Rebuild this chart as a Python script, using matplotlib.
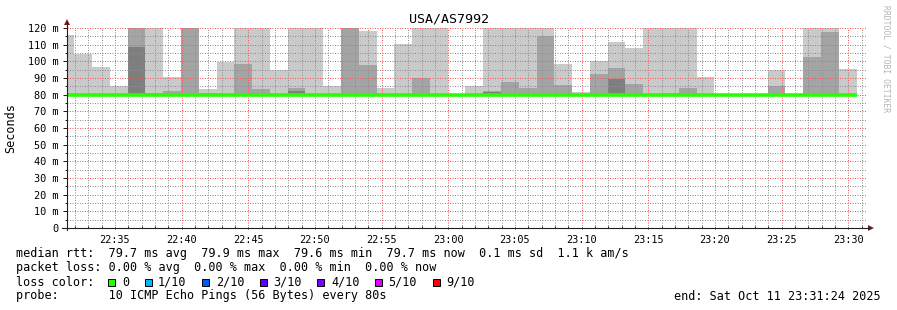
import matplotlib
matplotlib.use("Agg")
import matplotlib.pyplot as plt
import matplotlib.dates as mdates
from matplotlib.lines import Line2D
from matplotlib.patches import Polygon, Rectangle
import numpy as np
import pandas as pd

# ---------------- data ----------------
title = "USA/AS7992"
step_start = "2025-10-11 22:30:37"
step_seconds = 80
view_start = "2025-10-11 22:31:24"
view_end = "2025-10-11 23:31:24"

# highest ping of each 80 s round (ms)
ping_max = [115.8, 104.4, 96.6, 85.2, 131.0, 125.0, 90.6, 136.0, 83.4, 99.8,
            126.0, 128.0, 95.0, 124.0, 122.0, 85.2, 130.0, 118.2, 84.0, 110.4,
            124.0, 123.0, 79.8, 85.2, 126.0, 121.0, 125.0, 128.0, 98.4, 81.6,
            100.2, 111.6, 108.0, 127.0, 122.0, 125.0, 90.6, 79.8, 79.8, 79.8,
            94.8, 79.8, 123.0, 124.0, 95.4]
# second highest ping
ping_2nd = [80.0, 80.0, 80.0, 80.0, 124.0, 81.0, 82.2, 125.0, 81.0, 80.0,
            98.4, 83.4, 80.0, 84.0, 80.0, 80.0, 122.0, 97.8, 80.0, 80.0,
            90.0, 80.0, 79.8, 80.0, 82.2, 87.6, 84.0, 115.2, 85.8, 80.0,
            92.4, 96.0, 86.4, 80.0, 81.0, 84.0, 80.0, 79.8, 79.8, 79.8,
            85.2, 79.8, 102.6, 117.6, 80.0]
# third highest ping
ping_3rd = [79.9, 79.9, 79.9, 79.9, 108.8, 79.9, 79.9, 79.9, 79.9, 79.9,
            79.9, 79.9, 79.9, 82.2, 79.9, 79.9, 79.9, 79.9, 79.9, 79.9,
            79.9, 79.9, 79.8, 79.9, 81.6, 79.9, 79.9, 79.9, 79.9, 79.9,
            79.9, 89.4, 79.9, 79.9, 79.9, 79.9, 79.9, 79.8, 79.8, 79.8,
            79.9, 79.8, 79.9, 79.9, 79.9]
# lowest ping
ping_min = [79.4, 79.4, 79.4, 79.4, 79.5, 79.4, 79.4, 79.4, 79.4, 79.4,
            79.4, 79.4, 79.4, 79.4, 79.4, 79.4, 79.4, 79.4, 79.4, 79.4,
            79.4, 79.4, 79.5, 79.4, 79.5, 79.4, 79.4, 79.4, 79.4, 79.4,
            79.4, 79.4, 79.4, 79.4, 79.4, 79.4, 79.4, 79.5, 79.5, 79.5,
            79.4, 79.5, 79.4, 79.4, 79.4]
median_rtt = [79.7, 79.7, 79.7, 79.7, 80.1, 79.6, 79.7, 79.7, 79.7, 79.7,
              79.7, 79.7, 79.7, 79.7, 79.7, 79.7, 79.7, 79.7, 79.7, 79.7,
              79.7, 79.7, 79.7, 79.7, 79.9, 79.7, 79.7, 79.7, 79.7, 79.7,
              79.7, 79.7, 79.7, 79.7, 79.7, 79.7, 79.7, 79.7, 79.7, 79.7,
              79.7, 79.7, 79.7, 79.7, 79.7]

y_ticks = [0, 10, 20, 30, 40, 50, 60, 70, 80, 90, 100, 110, 120]
y_tick_labels = ["0", "10 m", "20 m", "30 m", "40 m", "50 m", "60 m", "70 m",
                 "80 m", "90 m", "100 m", "110 m", "120 m"]
y_label = "Seconds"

legend_lines = [
    "median rtt:  79.7 ms avg  79.9 ms max  79.6 ms min  79.7 ms now  0.1 ms sd  1.1 k am/s",
    "packet loss: 0.00 % avg  0.00 % max  0.00 % min  0.00 % now",
    "loss color:",
    "probe:       10 ICMP Echo Pings (56 Bytes) every 80s",
]
loss_labels = ["0", "1/10", "2/10", "3/10", "4/10", "5/10", "9/10"]
loss_colors = ["#26ff00", "#00b8ff", "#0059ff", "#5e00ff", "#7e00ff", "#dd00ff", "#ff0000"]
end_text = "end: Sat Oct 11 23:31:24 2025"
watermark = "RRDTOOL / TOBI OETIKER"

smoke_colors = ["#cacaca", "#a4a4a4", "#7e7e7e"]
median_color = loss_colors[0]

# ---------------- figure ----------------
W, H = 897, 310
fig = plt.figure(figsize=(W / 100, H / 100), dpi=100, facecolor="white")
MONO = "DejaVu Sans Mono"


def fx(px):
    return px / W


def fy(py):
    return 1 - py / H


L, R, T, B = 67, 867, 28, 228
ax = fig.add_axes([fx(L), fy(B), (R - L) / W, (B - T) / H])
ax.set_facecolor("white")

starts = pd.date_range(step_start, periods=len(ping_max), freq=f"{step_seconds}s")
edges = list(starts) + [starts[-1] + pd.Timedelta(seconds=step_seconds)]
xe = mdates.date2num(pd.DatetimeIndex(edges).to_pydatetime())


def ext(v):
    return list(v) + [v[-1]]


ax.fill_between(xe, ext(ping_min), ext(ping_max), step="post",
                color=smoke_colors[0], lw=0, zorder=1)
ax.fill_between(xe, ext(ping_min), ext(ping_2nd), step="post",
                color=smoke_colors[1], lw=0, zorder=1.1)
ax.fill_between(xe, ext(ping_min), ext(ping_3rd), step="post",
                color=smoke_colors[2], lw=0, zorder=1.2)
ax.step(xe, ext(median_rtt), where="post", color=median_color, lw=2.6,
        solid_capstyle="butt", zorder=4)

ax.set_xlim(mdates.date2num(pd.Timestamp(view_start).to_pydatetime()),
            mdates.date2num(pd.Timestamp(view_end).to_pydatetime()))
ax.set_ylim(0, 120)

ax.xaxis.set_major_locator(mdates.MinuteLocator(byminute=range(0, 60, 5)))
ax.xaxis.set_minor_locator(mdates.MinuteLocator())
ax.xaxis.set_major_formatter(mdates.DateFormatter("%H:%M"))
ax.set_yticks(y_ticks)
ax.set_yticklabels(y_tick_labels)
ax.set_yticks(np.arange(5, 120, 10), minor=True)

ax.set_axisbelow(False)
ax.grid(which="minor", color=(0.56, 0.56, 0.56, 0.38), linestyle=(0, (1, 1.5)), lw=0.72)
ax.grid(which="major", color=(0.95, 0.35, 0.35, 0.34), linestyle=(0, (1, 1.5)), lw=0.72)

for s in ax.spines.values():
    s.set_visible(False)

ax.tick_params(axis="both", which="both", labelsize=7.4, colors="#202020",
               width=0.72)
ax.tick_params(axis="y", which="major", length=3, pad=3)
ax.tick_params(axis="y", which="minor", length=1.5)
ax.tick_params(axis="x", which="major", length=2, pad=4, direction="inout")
ax.tick_params(axis="x", which="minor", length=1.5, direction="in")
for lab in ax.get_xticklabels() + ax.get_yticklabels():
    lab.set_family(MONO)
    lab.set_color("black")

# axis lines and arrows
fig.add_artist(Line2D([fx(L), fx(L)], [fy(B + 2), fy(22)], color="#202020", lw=0.8))
fig.add_artist(Line2D([fx(L - 5), fx(870)], [fy(B), fy(B)], color="#202020", lw=0.8))
arrow_col = (0.5, 0.12, 0.12)
fig.add_artist(Polygon([[fx(L - 3), fy(25)], [fx(L + 3), fy(25)], [fx(L), fy(19)]],
                       closed=True, color=arrow_col, lw=0))
fig.add_artist(Polygon([[fx(868), fy(B - 3)], [fx(868), fy(B + 3)], [fx(874), fy(B)]],
                       closed=True, color=arrow_col, lw=0))

# texts
fig.text(fx(448.5), fy(19), title, family=MONO, fontsize=9.6, ha="center", va="center")
fig.text(fx(11), fy(128), y_label, family=MONO, fontsize=8.5, rotation=90,
         ha="center", va="center")
fig.text(fx(886), fy(59), watermark, family=MONO, fontsize=5.8, rotation=270,
         ha="center", va="center", color="#b4b4b4")

cw = 7.1
line_y = [254, 268, 282, 296]
for txt, yy in zip(legend_lines, line_y):
    fig.text(fx(16), fy(yy), txt, family=MONO, fontsize=8.5, ha="left", va="center")

bx = 16 + 13 * cw
for lab, col in zip(loss_labels, loss_colors):
    fig.add_artist(Rectangle((fx(bx), fy(286)), 7 / W, 7 / H, facecolor=col,
                             edgecolor="black", lw=0.7))
    tx = bx + 13.5
    fig.text(fx(tx), fy(282), lab, family=MONO, fontsize=8.5, ha="left", va="center")
    bx = tx + len(lab) * cw + 15.7

fig.text(fx(881), fy(296), end_text, family=MONO, fontsize=8.5, ha="right", va="center")

fig.savefig("out.png", dpi=100, facecolor="white")
